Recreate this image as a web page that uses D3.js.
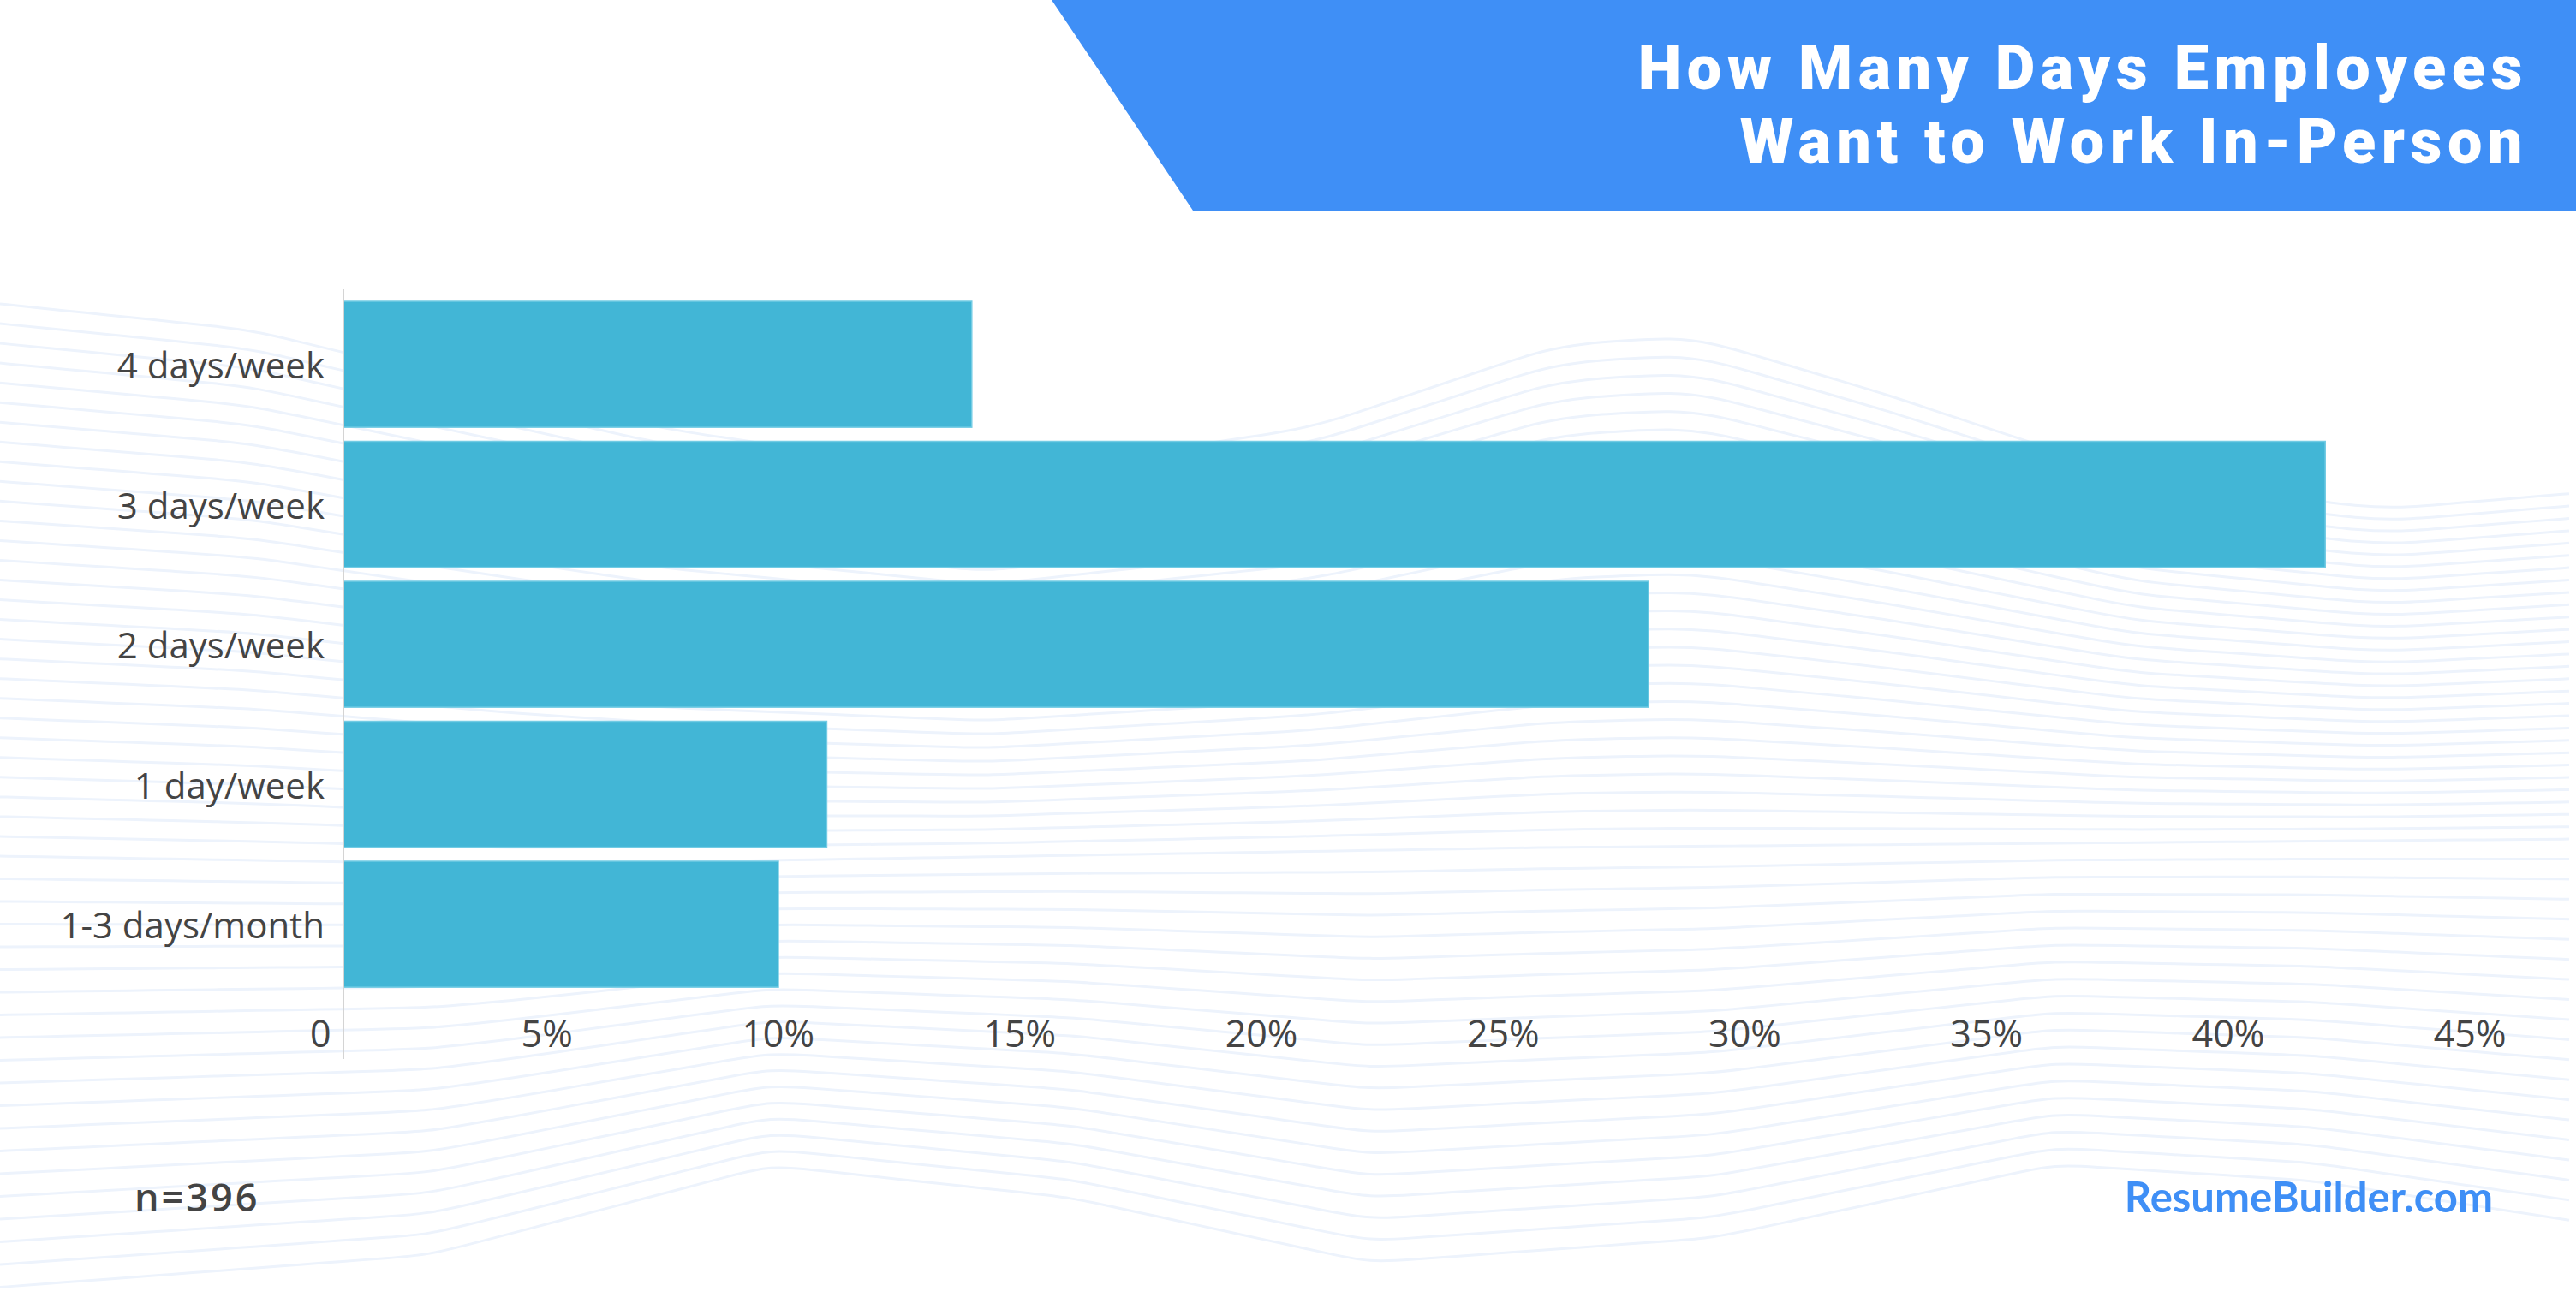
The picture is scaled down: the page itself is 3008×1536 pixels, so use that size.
<!DOCTYPE html>
<html><head><meta charset="utf-8">
<script src="https://cdn.jsdelivr.net/npm/d3@7/dist/d3.min.js"></script>
<style>html,body{margin:0;padding:0;background:#fff;}svg{display:block;}</style>
</head><body>
<script>
const categories = ["4 days/week","3 days/week","2 days/week","1 day/week","1-3 days/month"];
const values = [13, 41, 27, 10, 9];
const tickValues = [0,5,10,15,20,25,30,35,40,45];
const tickLabels = ["0","5%","10%","15%","20%","25%","30%","35%","40%","45%"];
const titleLines = ["How Many Days Employees","Want to Work In-Person"];
const sampleNote = "n=396";
const brand = "ResumeBuilder.com";

const W = 3008, H = 1536;
const svg = d3.select("body").append("svg").attr("width", W).attr("height", H);

// decorative wave background
const bg = svg.append("g");
const topPts = [[0,355],[290,385],[770,500],[1150,556],[1530,500],[1820,403],[1975,393],[2200,460],[2490,556],[2780,595],[3008,576]];
const midPts = [[0,1000],[600,1010],[1200,1000],[1800,990],[2400,985],[3008,980]];
const botPts = [[0,1530],[500,1490],[900,1380],[1250,1420],[1600,1500],[2000,1470],[2400,1380],[2700,1400],[3008,1450]];
const line = d3.line().curve(d3.curveBasis);
function interp(a,b,t){return a.map((p,i)=>[p[0], p[1]+(b[Math.min(i,b.length-1)][1]-p[1])*t]);}
function resample(pts){const f=d3.scaleLinear().domain(pts.map(p=>p[0])).range(pts.map(p=>p[1]));return d3.range(0,W+1,50).map(x=>[x,f(x)]);}
const T = resample(topPts), M = resample(midPts), B = resample(botPts);
for(let i=0;i<28;i++){
  const t=i/28; bg.append("path").attr("d", line(interp(T,M,t))).attr("fill","none").attr("stroke","#edf3fc").attr("stroke-width",3);
}
for(let i=0;i<20;i++){
  const t=i/20; bg.append("path").attr("d", line(interp(M,B,t))).attr("fill","none").attr("stroke","#edf3fc").attr("stroke-width",3);
}

// title banner
svg.append("polygon").attr("points", "1228,0 3008,0 3008,246 1393,246").attr("fill","#3f8ff6");
svg.append("g").selectAll("text").data(titleLines).join("text")
  .attr("x", 2952).attr("y",(d,i)=>104+i*86)
  .attr("text-anchor","end").attr("fill","#fff")
  .attr("font-family","Roboto, sans-serif").attr("font-weight",900).attr("font-size",72)
  .attr("letter-spacing",6.5)
  .text(d=>d);

// scales
const x = d3.scaleLinear().domain([0,45]).range([401,2941]);
const y = d3.scaleBand().domain(categories).range([335.65,1169.5]).paddingInner(0.1).paddingOuter(0.1);

// bars
svg.append("g").selectAll("rect").data(values).join("rect")
  .attr("x", x(0)).attr("y",(d,i)=>y(categories[i]))
  .attr("width", d=>x(d)-x(0)).attr("height", y.bandwidth())
  .attr("fill","#42b6d6").attr("stroke","#72cbe4").attr("stroke-width",1.5);

// axis line
svg.append("line").attr("x1",x(0)).attr("x2",x(0)).attr("y1",337).attr("y2",1237)
  .attr("stroke","#d4d4d4").attr("stroke-width",2);

// y labels
svg.append("g").selectAll("text").data(categories).join("text")
  .attr("x", 379).attr("y", d=>y(d)+y.bandwidth()/2+2).attr("dy","0.35em")
  .attr("text-anchor","end").attr("fill","#444")
  .attr("font-family","'Open Sans', sans-serif").attr("font-size",42)
  .text(d=>d);

// x axis labels
const xa = svg.append("g").attr("transform","translate(0,1223)")
  .call(d3.axisBottom(x).tickValues(tickValues).tickSize(0).tickFormat((d,i)=>tickLabels[i]));
xa.select(".domain").remove();
xa.selectAll("text").attr("y",0).attr("dy",0).attr("dx",-15).attr("text-anchor","end")
  .attr("fill","#444").attr("font-family","'Open Sans', sans-serif").attr("font-size",43);

// footer
svg.append("text").attr("x",157).attr("y",1415).attr("fill","#444")
  .attr("font-family","'Open Sans', sans-serif").attr("font-weight",600).attr("font-size",45)
  .attr("letter-spacing",3).text(sampleNote);
svg.append("text").attr("x",2911).attr("y",1416).attr("text-anchor","end").attr("fill","#3f8ff6")
  .attr("font-family","Lato, sans-serif").attr("font-weight",700).attr("font-size",49).text(brand);
</script>
</body></html>
